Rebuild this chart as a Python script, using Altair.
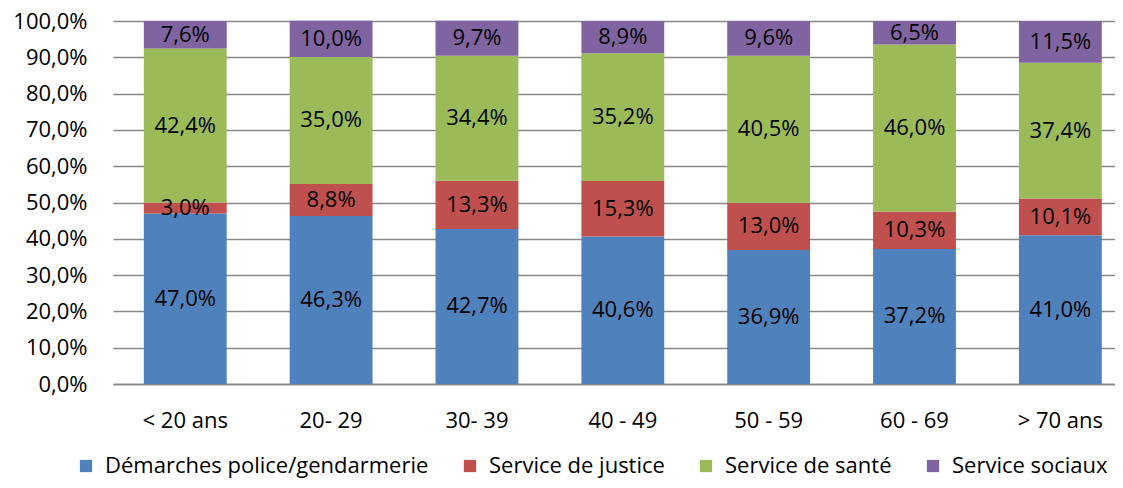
import altair as alt
import pandas as pd

categories = ["< 20 ans", "20- 29", "30- 39", "40 - 49", "50 - 59", "60 - 69", "> 70 ans"]
series = ["Démarches police/gendarmerie", "Service de justice", "Service de santé", "Service sociaux"]
police = [47.0, 46.3, 42.7, 40.6, 36.9, 37.2, 41.0]
justice = [3.0, 8.8, 13.3, 15.3, 13.0, 10.3, 10.1]
sante = [42.4, 35.0, 34.4, 35.2, 40.5, 46.0, 37.4]
sociaux = [7.6, 10.0, 9.7, 8.9, 9.6, 6.5, 11.5]
ytick_values = [0, 10, 20, 30, 40, 50, 60, 70, 80, 90, 100]
colors = ["#4F81BD", "#C0504D", "#9BBB59", "#8064A2"]

rows = []
for si, (s, vals) in enumerate(zip(series, [police, justice, sante, sociaux])):
    for c, v in zip(categories, vals):
        rows.append({"cat": c, "serie": s, "idx": si, "v": v,
                     "lab": f"{v:.1f}%".replace(".", ",")})
df = pd.DataFrame(rows)

FONT = "Open Sans"
FS = 22

base = alt.Chart(df).transform_stack(
    stack="v", groupby=["cat"], sort=[alt.SortField("idx", order="ascending")], as_=["v0", "v1"]
)

xscale = alt.Scale(paddingInner=0.432, paddingOuter=0.151, align=0.7, round=False)
yscale = alt.Scale(domain=[0, 100], nice=False)
xaxis = alt.Axis(labelAngle=0, labelFontSize=FS, labelFont=FONT, labelColor="#000000",
                 ticks=False, domainColor="#888888", domainWidth=1.5, labelPadding=26)
yaxis = alt.Axis(values=ytick_values, labelFontSize=FS, labelFont=FONT,
                 labelColor="#000000", ticks=False, domain=False, labelPadding=26,
                 labelOverlap=False, gridColor="#888888", gridWidth=1.5,
                 labelExpr="replace(format(datum.value, '.1f'), '.', ',') + '%'")

bars = base.mark_bar().encode(
    x=alt.X("cat:N", sort=categories, title=None, scale=xscale, axis=xaxis),
    y=alt.Y("v0:Q", title=None, scale=yscale, axis=yaxis),
    y2="v1:Q",
    color=alt.Color("serie:N", sort=series, scale=alt.Scale(domain=series, range=colors),
                    legend=alt.Legend(title=None, orient="none", direction="horizontal",
                                      legendX=-38, legendY=434,
                                      labelFont=FONT, labelFontSize=FS, labelColor="#000000",
                                      symbolType="square", symbolSize=150, symbolStrokeWidth=0,
                                      symbolOffset=0, labelOffset=8,
                                      columnPadding=30, labelLimit=400)),
)

texts = base.transform_calculate(mid="(datum.v0 + datum.v1) / 2").mark_text(
    font=FONT, fontSize=FS, color="#000000", baseline="middle"
).encode(
    x=alt.X("cat:N", sort=categories, title=None, scale=xscale, axis=xaxis),
    y=alt.Y("mid:Q", title=None, scale=yscale, axis=yaxis),
    text="lab:N",
)

chart = (bars + texts).properties(
    width=1002, height=363,
    autosize=alt.AutoSizeParams(type="none"),
    padding={"left": 105, "top": 13, "right": 0, "bottom": 96},
).configure_view(stroke=None)

chart.save("out.html", embed_options={"renderer": "svg", "actions": False})
